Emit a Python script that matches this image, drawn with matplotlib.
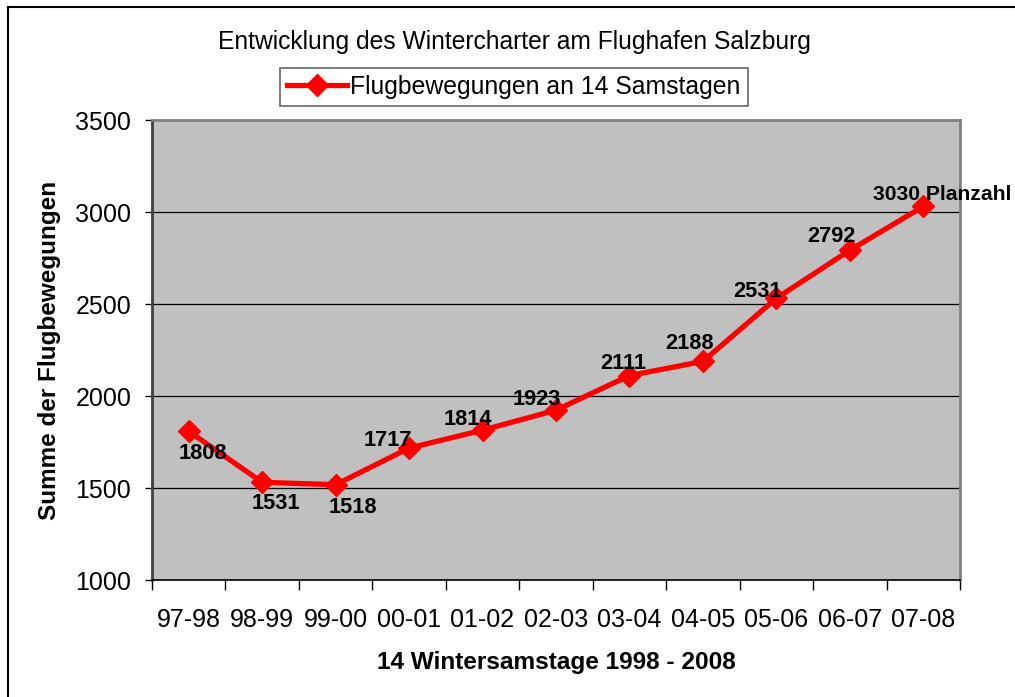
import matplotlib
matplotlib.use('Agg')
import matplotlib.pyplot as plt
from matplotlib.lines import Line2D
import numpy as np

seasons = ['97-98', '98-99', '99-00', '00-01', '01-02', '02-03',
           '03-04', '04-05', '05-06', '06-07', '07-08']
movements = [1808, 1531, 1518, 1717, 1814, 1923, 2111, 2188, 2531, 2792, 3030]
point_labels = ['1808', '1531', '1518', '1717', '1814', '1923',
                '2111', '2188', '2531', '2792', '3030 Planzahl']
# label offsets in pixels (dx, dy) relative to each point
label_offsets = [(14, -22), (14, -21), (17, -23), (-21, 8), (-15, 11), (-19, 11),
                 (-6, 12), (-13, 18), (-19, 7), (-18, 14), (None, 12)]

plt.rcParams['font.family'] = ['Liberation Sans', 'DejaVu Sans']

W, H = 1015, 697
fig = plt.figure(figsize=(W / 100, H / 100), dpi=100)
fig.patch.set_facecolor('white')

# figure frame (top and left edge visible)
fig.add_artist(Line2D([8 / W, 1.0], [1 - 7 / H, 1 - 7 / H], transform=fig.transFigure,
                      color='black', lw=1.5))
fig.add_artist(Line2D([8 / W, 8 / W], [0, 1 - 7 / H], transform=fig.transFigure,
                      color='black', lw=1.5))

ax = fig.add_axes([152 / W, 1 - 580 / H, (960 - 152) / W, (580 - 120) / H])
ax.set_facecolor('#C0C0C0')

x = np.arange(len(seasons))
line, = ax.plot(x, movements, color='#FF0000', lw=3.8, marker='D', ms=11,
                markeredgecolor='#FF0000', markerfacecolor='#FF0000',
                label='Flugbewegungen an 14 Samstagen', zorder=3, clip_on=False)

ax.set_xlim(-0.5, len(seasons) - 0.5)
ax.set_ylim(1000, 3500)
ax.set_yticks(np.arange(1000, 3501, 500))
ax.set_xticks(x)
ax.set_xticklabels(seasons)
ax.set_xticks(np.arange(-0.5, len(seasons), 1), minor=True)
ax.tick_params(axis='x', which='major', length=0, labelsize=18, pad=20)
ax.tick_params(axis='x', which='minor', length=7, width=1, color='black', direction='out')
ax.tick_params(axis='y', length=5, width=1, color='black', labelsize=18, pad=10)

for yv in [1500, 2000, 2500, 3000]:
    ax.axhline(yv, color='black', lw=0.9, zorder=1)

for side in ['top', 'right']:
    ax.spines[side].set_color('#808080')
    ax.spines[side].set_linewidth(2)
ax.spines['left'].set_color('#404040')
ax.spines['left'].set_linewidth(2)
ax.spines['bottom'].set_color('black')
ax.spines['bottom'].set_linewidth(1.2)

for i, (val, txt) in enumerate(zip(movements, point_labels)):
    dx, dy = label_offsets[i]
    if dx is None:
        ax.annotate(txt, (i, val), xytext=(-50, dy), textcoords='offset pixels',
                    ha='left', va='center', fontsize=15.2, fontweight='bold',
                    annotation_clip=False, zorder=4)
    else:
        ax.annotate(txt, (i, val), xytext=(dx, dy), textcoords='offset pixels',
                    ha='center', va='center', fontsize=15.7, fontweight='bold', zorder=4)

ax.set_xlabel('14 Wintersamstage 1998 - 2008', fontsize=17.6, fontweight='bold', labelpad=14)
ax.set_ylabel('Summe der Flugbewegungen', fontsize=17.5, fontweight='bold', labelpad=10)

fig.text(514 / W, 1 - 42 / H, 'Entwicklung des Wintercharter am Flughafen Salzburg',
         ha='center', va='center', fontsize=17.7)

leg = fig.legend(handles=[line], loc='center', bbox_to_anchor=(514 / W, 1 - 87 / H),
                 fontsize=17.8, frameon=True, fancybox=False, handlelength=2.4,
                 handletextpad=0.15, borderpad=0.3, borderaxespad=0)
leg.get_frame().set_edgecolor('#404040')
leg.get_frame().set_linewidth(1.2)

fig.savefig('out.png', dpi=100)
